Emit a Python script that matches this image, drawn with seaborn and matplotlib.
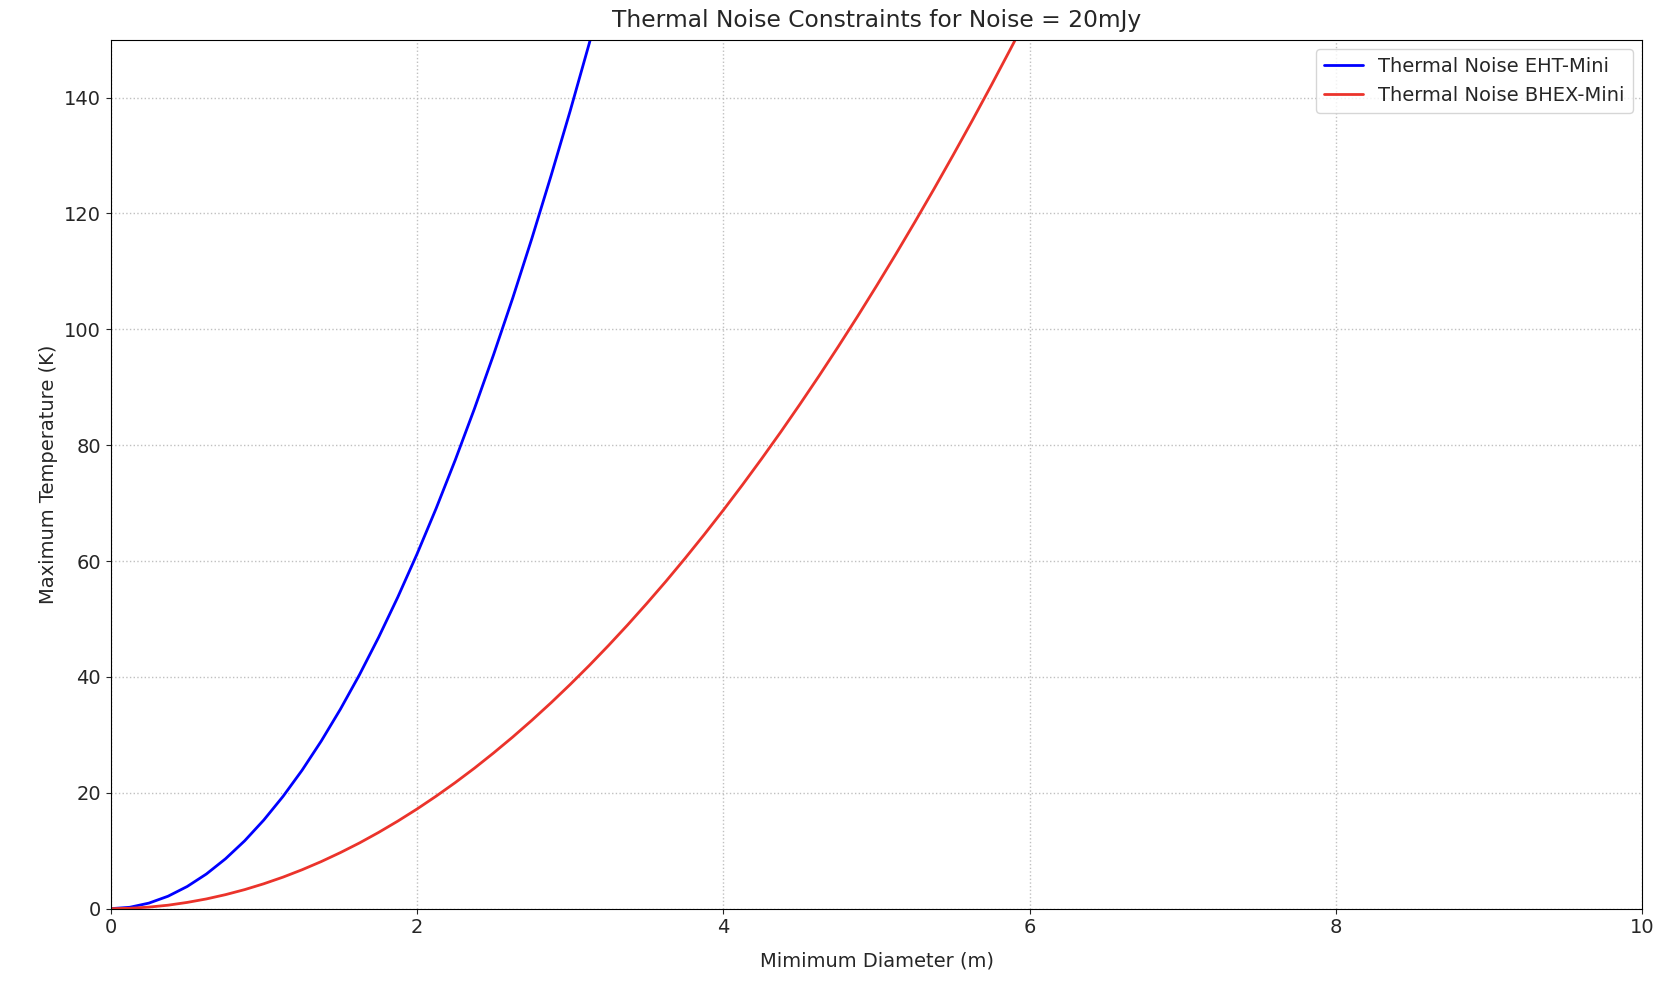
import matplotlib.pyplot as plt
import seaborn as sns
import pandas as pd

sns.set_style("ticks")
plt.rcParams['font.family'] = ['DejaVu Sans']
plt.rcParams['font.size'] = 14

# values
eht_diam = [0, 0.125, 0.25, 0.375, 0.5, 0.625, 0.75, 0.875, 1.0, 1.125, 1.25, 1.375, 1.5,
            1.625, 1.75, 1.875, 2.0, 2.125, 2.25, 2.375, 2.5, 2.625, 2.75, 2.875, 3.0,
            3.125, 3.25]
eht_temp = [0, 0.24, 0.96, 2.15, 3.83, 5.98, 8.61, 11.71, 15.3, 19.36, 23.9, 28.93, 34.43,
            40.4, 46.86, 53.79, 61.2, 69.09, 77.46, 86.3, 95.63, 105.4, 115.7, 126.5, 137.7,
            149.4, 161.6]

bhex_diam = [0, 0.125, 0.25, 0.375, 0.5, 0.625, 0.75, 0.875, 1.0, 1.125, 1.25, 1.375, 1.5,
             1.625, 1.75, 1.875, 2.0, 2.125, 2.25, 2.375, 2.5, 2.625, 2.75, 2.875, 3.0,
             3.125, 3.25, 3.375, 3.5, 3.625, 3.75, 3.875, 4.0, 4.125, 4.25, 4.375, 4.5,
             4.625, 4.75, 4.875, 5.0, 5.125, 5.25, 5.375, 5.5, 5.625, 5.75, 5.875, 6.0, 6.125]
bhex_temp = [0, 0.07, 0.27, 0.60, 1.08, 1.68, 2.42, 3.29, 4.3, 5.44, 6.72, 8.13, 9.68,
             11.35, 13.17, 15.12, 17.2, 19.42, 21.77, 24.25, 26.88, 29.63, 32.52, 35.54, 38.7,
             41.99, 45.42, 48.98, 52.68, 56.5, 60.47, 64.57, 68.8, 73.17, 77.67, 82.3, 87.08,
             91.98, 97.02, 102.19, 107.5, 112.94, 118.52, 124.23, 130.08, 136.05, 142.17,
             148.42, 154.8, 161.32]

df = pd.concat([
    pd.DataFrame({'D': eht_diam, 'T': eht_temp, 'label': 'Thermal Noise EHT-Mini'}),
    pd.DataFrame({'D': bhex_diam, 'T': bhex_temp, 'label': 'Thermal Noise BHEX-Mini'}),
])

fig, ax = plt.subplots(figsize=(16.76, 9.92), dpi=100)
fig.subplots_adjust(left=0.066, right=0.980, top=0.960, bottom=0.084)

sns.lineplot(data=df, x='D', y='T', hue='label', ax=ax,
             palette={'Thermal Noise EHT-Mini': 'blue', 'Thermal Noise BHEX-Mini': (0.92, 0.2, 0.17)},
             linewidth=2)

ax.set_xlim(0, 10)
ax.set_ylim(0, 150)
ax.set_xticks([0, 2, 4, 6, 8, 10])
ax.set_yticks([0, 20, 40, 60, 80, 100, 120, 140])
ax.grid(True, linestyle=':', color='#c0c0c0', linewidth=1)
ax.set_xlabel('Mimimum Diameter (m)', labelpad=10)
ax.set_ylabel('Maximum Temperature (K)')
ax.set_title('Thermal Noise Constraints for Noise = 20mJy', fontsize=16.8, pad=9)
ax.legend(title=None, loc='upper right')
for s in ax.spines.values():
    s.set_color('black')

plt.savefig('out.png', dpi=100)
